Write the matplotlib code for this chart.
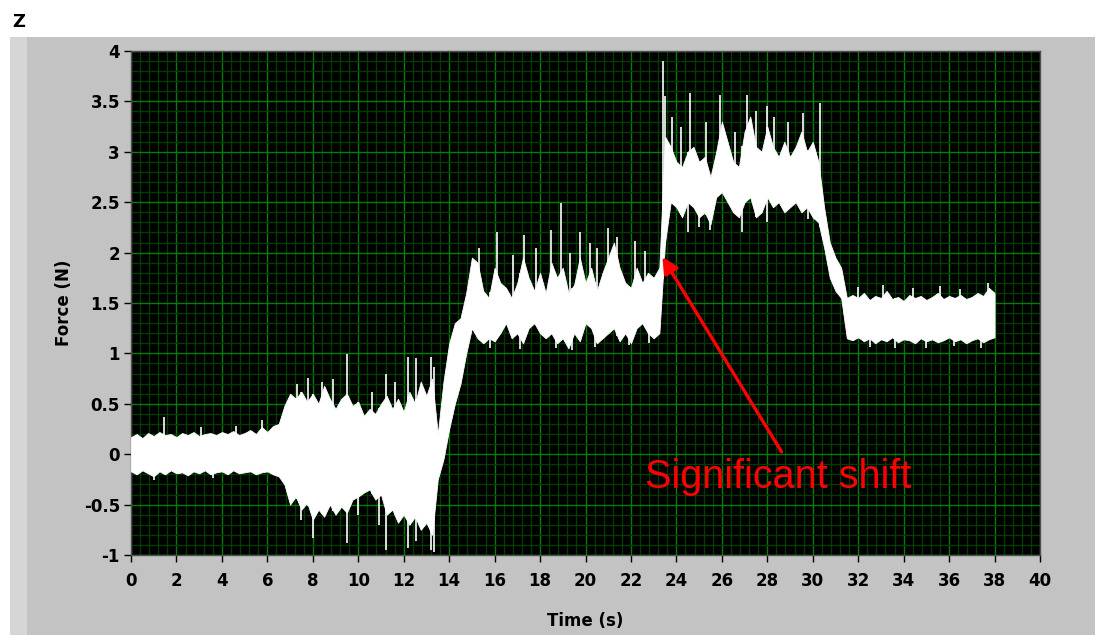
import numpy as np
import matplotlib
matplotlib.use("Agg")
import matplotlib.pyplot as plt
from matplotlib.ticker import MultipleLocator
from matplotlib.patches import Rectangle

# ---------------------------------------------------------------
#  Data: band envelope every 0.25 s
# ---------------------------------------------------------------
T_STEP = 0.25

hi = [0.17, 0.20, 0.16, 0.21, 0.18, 0.22, 0.19, 0.20, 0.17, 0.21,
      0.19, 0.22, 0.18, 0.20, 0.21, 0.19, 0.22, 0.20, 0.23, 0.19,
      0.21, 0.24, 0.20, 0.27, 0.22, 0.28,                          # 0 - 6.25
      0.30, 0.48, 0.60, 0.55, 0.62, 0.52, 0.60, 0.50, 0.68, 0.55,  # 6.5 - 8.75
      0.45, 0.55, 0.60, 0.48, 0.52, 0.38, 0.45, 0.40, 0.50, 0.58,  # 9.0 - 11.25
      0.45, 0.55, 0.42, 0.62, 0.50, 0.72, 0.58, 0.75, 0.20, 0.72,  # 11.5 - 13.75
      1.10, 1.30, 1.35, 1.60, 1.95, 1.90, 1.62, 1.55, 1.85, 1.70,  # 14.0 - 16.25
      1.65, 1.55, 1.70, 1.95, 1.75, 1.62, 1.80, 1.60, 1.90, 1.75,  # 16.5 - 18.75
      1.85, 1.60, 1.68, 1.95, 1.70, 1.85, 1.62, 1.80, 1.95, 2.10,  # 19.0 - 21.25
      1.85, 1.70, 1.65, 1.85, 1.70, 1.80, 1.75, 1.85, 3.15, 3.05,  # 21.5 - 23.75
      2.90, 2.85, 3.00, 3.05, 2.90, 2.95, 2.75, 3.00, 3.30, 3.10,  # 24.0 - 26.25
      2.90, 2.85, 3.20, 3.35, 3.05, 3.00, 3.25, 3.05, 2.95, 3.10,  # 26.5 - 28.75
      2.95, 3.05, 3.20, 3.00, 3.10, 2.90, 2.45, 2.10, 1.95, 1.85,  # 29.0 - 31.25
      1.55,                                                        # 31.5
      1.58, 1.55, 1.60, 1.53, 1.57, 1.55, 1.62, 1.54, 1.56, 1.52,
      1.58, 1.55, 1.57, 1.53, 1.56, 1.60, 1.54, 1.57, 1.55, 1.58,
      1.54, 1.56, 1.60, 1.57, 1.65, 1.60]                          # 31.75 - 38.0

lo = [-0.17, -0.20, -0.16, -0.19, -0.22, -0.17, -0.20, -0.16, -0.19, -0.18,
      -0.21, -0.17, -0.19, -0.16, -0.20, -0.18, -0.17, -0.20, -0.16, -0.19,
      -0.18, -0.17, -0.20, -0.18, -0.17, -0.20,
      -0.22, -0.30, -0.50, -0.42, -0.55, -0.48, -0.65, -0.55, -0.62, -0.50,
      -0.60, -0.52, -0.58, -0.45, -0.42, -0.38, -0.35, -0.45, -0.40, -0.60,
      -0.55, -0.68, -0.60, -0.70, -0.62, -0.75, -0.68, -0.80, -0.25, -0.05,
      0.25, 0.50, 0.70, 1.00, 1.25, 1.15, 1.10, 1.15, 1.12, 1.20,
      1.30, 1.15, 1.20, 1.10, 1.25, 1.30, 1.20, 1.15, 1.20, 1.10,
      1.15, 1.05, 1.20, 1.12, 1.30, 1.25, 1.10, 1.15, 1.20, 1.25,
      1.12, 1.20, 1.10, 1.25, 1.30, 1.20, 1.15, 1.20, 2.10, 2.50,
      2.45, 2.35, 2.50, 2.45, 2.35, 2.40, 2.28, 2.55, 2.60, 2.50,
      2.40, 2.35, 2.50, 2.55, 2.35, 2.40, 2.55, 2.45, 2.50, 2.40,
      2.45, 2.50, 2.40, 2.45, 2.35, 2.30, 2.05, 1.75, 1.62, 1.55,
      1.15,
      1.13, 1.16, 1.12, 1.15, 1.10, 1.14, 1.12, 1.16, 1.11, 1.14,
      1.13, 1.10, 1.15, 1.12, 1.14, 1.11, 1.13, 1.16, 1.12, 1.14,
      1.10, 1.13, 1.15, 1.11, 1.14, 1.16]

# single-sample spikes sticking out of the band (time s, force N)
spike_up_t = [1.45, 3.1, 4.6, 5.75, 7.3, 7.8, 8.4, 8.9, 9.5, 10.6, 11.2, 11.6,
              12.2, 12.55, 13.2, 13.35,
              15.3, 16.1, 16.8, 17.3, 17.8, 18.5, 18.9, 19.3, 19.77, 20.2,
              20.5, 21.0, 21.4, 22.2, 22.6, 23.4, 23.5,
              23.8, 24.2, 24.6, 25.3, 25.9, 26.6, 27.1, 27.5, 28.0, 28.3,
              28.9, 29.55, 30.3,
              32.0, 33.1, 34.4, 35.6, 36.5, 37.7]
spike_up_v = [0.37, 0.27, 0.28, 0.34, 0.70, 0.76, 0.72, 0.75, 0.99, 0.62, 0.80, 0.72,
              0.96, 0.95, 0.96, 0.87,
              2.05, 2.20, 1.98, 2.17, 2.05, 2.22, 2.49, 2.00, 2.20, 2.10,
              2.05, 2.24, 2.15, 2.12, 2.02, 3.90, 3.55,
              3.35, 3.25, 3.58, 3.30, 3.56, 3.20, 3.56, 3.40, 3.45, 3.35,
              3.30, 3.38, 3.48,
              1.66, 1.68, 1.65, 1.67, 1.64, 1.70]
spike_dn_t = [1.0, 3.6, 7.5, 8.0, 9.5, 10.0, 10.9, 11.2, 12.2, 12.55, 13.2, 13.35,
              15.8, 17.1, 18.7, 19.4, 20.4, 21.9, 22.8,
              24.5, 25.0, 25.5, 26.9, 28.0, 29.8,
              32.5, 33.6, 35.0, 36.2, 37.4]
spike_dn_v = [-0.26, -0.24, -0.65, -0.83, -0.88, -0.60, -0.70, -0.95, -0.93, -0.86,
              -0.95, -0.97,
              1.05, 1.04, 1.05, 1.03, 1.06, 1.08, 1.10,
              2.20, 2.25, 2.22, 2.20, 2.30, 2.33,
              1.06, 1.05, 1.05, 1.07, 1.05]

hi = np.array(hi); lo = np.array(lo)
t = np.arange(len(hi)) * T_STEP

# ---------------------------------------------------------------
#  Figure: LabVIEW-style graph
# ---------------------------------------------------------------
W, H = 1102, 635
fig = plt.figure(figsize=(W / 100, H / 100), dpi=100, facecolor='white')

# grey panel behind the graph
fig.patches.append(Rectangle((10 / W, 0), 1085 / W, 1 - 37 / H, transform=fig.transFigure,
                             facecolor='#c3c3c3', edgecolor='none', zorder=-10))
fig.patches.append(Rectangle((10 / W, 0), 17 / W, 1 - 37 / H, transform=fig.transFigure,
                             facecolor='#d6d6d6', edgecolor='none', zorder=-9))
fig.text(12 / W, 1 - 22 / H, 'Z', fontsize=13, fontweight='bold', va='center', ha='left')

ax = fig.add_axes([131 / W, 1 - 555 / H, (1040 - 131) / W, (555 - 51) / H])
ax.set_facecolor('black')

ax.fill_between(t, lo, hi, color='white', linewidth=0.6, edgecolor='white', zorder=3)
ax.vlines(spike_up_t, np.interp(spike_up_t, t, lo), spike_up_v,
          color='white', linewidth=1.2, zorder=3)
ax.vlines(spike_dn_t, spike_dn_v, np.interp(spike_dn_t, t, hi),
          color='white', linewidth=1.2, zorder=3)

ax.set_xlim(0, 40)
ax.set_ylim(-1, 4)
ax.xaxis.set_major_locator(MultipleLocator(2))
ax.xaxis.set_minor_locator(MultipleLocator(0.4))
ax.yaxis.set_minor_locator(MultipleLocator(0.1))
ax.set_yticks(np.arange(-1, 4.01, 0.5))
ax.set_yticklabels(['-1', '-0.5', '0', '0.5', '1', '1.5', '2', '2.5', '3', '3.5', '4'])

ax.grid(which='major', color='#007f00', linewidth=1.0, zorder=1)
ax.grid(which='minor', color='#003c00', linewidth=1.0, zorder=1)
ax.set_axisbelow(True)

ax.tick_params(which='major', direction='out', length=5, width=1, color='black',
               labelsize=12)
ax.tick_params(axis='x', which='major', pad=7)
ax.tick_params(axis='y', which='major', pad=3)
ax.tick_params(which='minor', length=0)
for lab in ax.get_xticklabels() + ax.get_yticklabels():
    lab.set_fontweight('bold')
for s in ax.spines.values():
    s.set_color('#505050'); s.set_linewidth(1)

ax.set_xlabel('Time (s)', fontsize=12, fontweight='bold')
ax.set_ylabel('Force (N)', fontsize=12, fontweight='bold')
ax.xaxis.set_label_coords(0.5, -0.113)
ax.yaxis.set_label_coords(-0.064, 0.5)

# annotation
ax.annotate('', xy=(23.32, 1.98), xytext=(28.69, 0.0),
            arrowprops=dict(arrowstyle='-|>', color='#ff0000', lw=2.4, mutation_scale=24),
            zorder=5)
ax.text(22.62, -0.34, 'Significant shift', color='#ff0000', fontsize=28.5,
        family='Liberation Sans', ha='left', va='baseline', zorder=5)

plt.savefig('out.png', dpi=100, facecolor=fig.get_facecolor())
